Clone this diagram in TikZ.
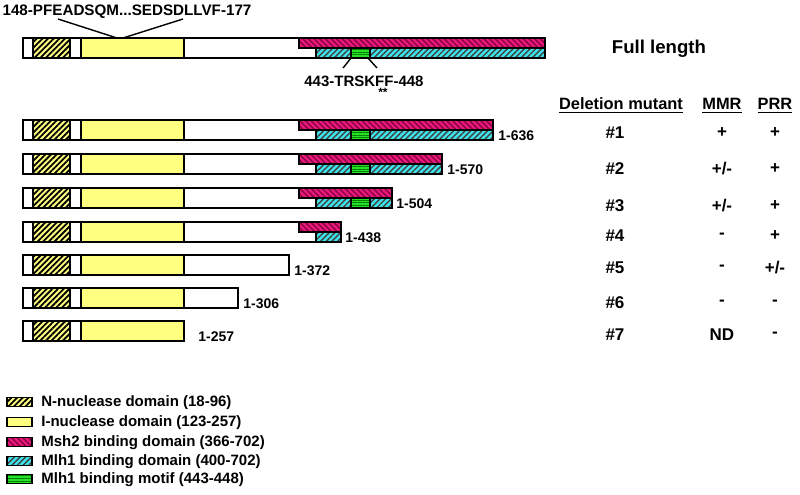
\documentclass[tikz,border=0pt]{standalone}
\usepackage{fontspec}
\setmainfont{Liberation Sans}
\usetikzlibrary{patterns.meta}
\definecolor{Nuc}{HTML}{FFFF80}
\definecolor{Msh}{HTML}{E8187C}
\definecolor{MshDark}{HTML}{8A0040}
\definecolor{Mlh}{HTML}{3CE4EC}
\definecolor{Mot}{HTML}{28E028}
\definecolor{MotDark}{HTML}{007A00}

\begin{document}
\begin{tikzpicture}[
  x=0.5pt, y=-0.5pt, font=\fontsize{7}{8}\selectfont\bfseries,
  seg/.style={draw=black, line width=0.7pt},
  wbox/.style={seg, fill=white},
  ibox/.style={seg, fill=Nuc},
  nbox/.style={seg, preaction={fill=Nuc},
               pattern={Lines[angle=45,distance=2pt,line width=0.9pt]}, pattern color=black},
  mshbox/.style={seg, preaction={fill=Msh},
               pattern={Lines[angle=-45,distance=2pt,line width=0.7pt]}, pattern color=MshDark},
  mlhbox/.style={seg, preaction={fill=Mlh},
               pattern={Lines[angle=45,distance=2pt,line width=0.7pt]}, pattern color=black!75},
  motbox/.style={seg, preaction={fill=Mot},
               pattern={Lines[angle=0,distance=1.3pt,line width=0.4pt]}, pattern color=MotDark},
  lbl/.style={inner sep=0pt},
  cell/.style={lbl, font=\fontsize{8.5}{9}\selectfont\bfseries},
  head/.style={lbl, font=\fontsize{8.2}{9}\selectfont\bfseries},
  tick/.style={line width=0.7pt, black}]
\useasboundingbox (0,0) rectangle (800,494);

% ================= protein bars: full length + deletion mutants =================
\foreach \t/\e in {38/545, 120/493, 154/442, 188/392, 222/341, 255/289, 288/238, 321/184} {
  \draw[wbox] (23,\t) rectangle (\e,\t+20);
  \draw[nbox] (33,\t) rectangle (70,\t+20);
  \draw[ibox] (81,\t) rectangle (184,\t+20);
  \ifnum\e>299
    \draw[mshbox] (299,\t) rectangle (\e,\t+10);
    \draw[mlhbox] (316,\t+10) rectangle (\e,\t+20);
  \fi
  \ifnum\e>370
    \draw[motbox] (351,\t+10) rectangle (370,\t+20);
  \fi
}

% sequence callouts on the full-length bar
\node[lbl, font=\fontsize{7.6}{8}\selectfont\bfseries] (seq) at (127,12)
  {148-PFEADSQM...SEDSDLLVF-177};
\coordinate (sqL) at (58,19);  \coordinate (iL) at (117,38);
\coordinate (sqR) at (183,19); \coordinate (iR) at (123,38);
\draw[tick] (sqL) -- (iL);
\draw[tick] (sqR) -- (iR);

\node[lbl, font=\fontsize{7.5}{8}\selectfont\bfseries] (mot) at (364,81) {443-TRSKFF-448};
\node[lbl, anchor=north, font=\fontsize{6}{6}\selectfont\bfseries] (star) at (383,88) {**};
\coordinate (mL0) at (351,58); \coordinate (mL1) at (343,68);
\coordinate (mR0) at (368,58); \coordinate (mR1) at (377,68);
\draw[tick] (mL0) -- (mL1);
\draw[tick] (mR0) -- (mR1);

\node[lbl, font=\fontsize{9.3}{10}\selectfont\bfseries] (full) at (659,49) {Full length};

% ================= table of mutants =================
\node[head] (hdel) at (621,106) {\underline{Deletion mutant}};
\node[head] (hmmr) at (722,106) {\underline{MMR}};
\node[head] (hprr) at (775,106) {\underline{PRR}};

\foreach \t/\lx/\len/\ry/\mmr/\prr [count=\n] in
  {120/498/636/133/+/+, 154/447/570/169/{+/-}/+, 188/396/504/206/{+/-}/+,
   222/345/438/236/-/+, 255/294/372/268/-/{+/-}, 288/243/306/303/-/-,
   321/198/257/335/ND/-} {
  \node[lbl, anchor=west] (len\n) at (\lx,\t+16) {1-\len};
  \node[cell] (mut\n) at (615,\ry) {\#\n};
  \node[cell] (mmr\n) at (722,\ry) {\mmr};
  \node[cell] (prr\n) at (775,\ry) {\prr};
}

% ================= legend =================
\foreach \sty/\yy/\txt [count=\i] in
  {nbox/402/N-nuclease domain (18-96), ibox/422/I-nuclease domain (123-257),
   mshbox/442/Msh2 binding domain (366-702), mlhbox/461/Mlh1 binding domain (400-702),
   motbox/479/Mlh1 binding motif (443-448)} {
  \draw[\sty] (7,\yy-4.5) rectangle (32,\yy+4.5);
  \node[lbl, anchor=west, font=\fontsize{7.5}{8}\selectfont\bfseries] (leg\i) at (41,\yy+1) {\txt};
}
\end{tikzpicture}
\end{document}
